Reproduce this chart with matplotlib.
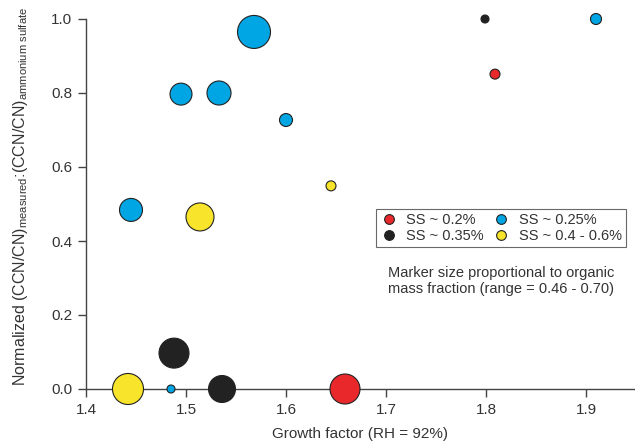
import matplotlib

matplotlib.use("Agg")
import matplotlib.pyplot as plt
from matplotlib.lines import Line2D

plt.rcParams["font.family"] = ["Liberation Sans", "DejaVu Sans"]
plt.rcParams["mathtext.fontset"] = "custom"
plt.rcParams["mathtext.rm"] = "Liberation Sans"
plt.rcParams["mathtext.it"] = "Liberation Sans:italic"

# growth factor, normalized CCN/CN, organic mass fraction, per supersaturation group
GF_02 = [1.659, 1.809]
CCN_02 = [0.0, 0.851]
ORG_02 = [0.671, 0.479]

GF_025 = [1.568, 1.495, 1.533, 1.600, 1.445, 1.485, 1.910]
CCN_025 = [0.965, 0.797, 0.800, 0.727, 0.484, 0.0, 1.0]
ORG_025 = [0.70, 0.594, 0.614, 0.508, 0.604, 0.46, 0.489]

GF_035 = [1.488, 1.536, 1.799]
CCN_035 = [0.097, 0.0, 1.0]
ORG_035 = [0.671, 0.642, 0.46]

GF_04 = [1.514, 1.442, 1.645]
CCN_04 = [0.465, 0.0, 0.549]
ORG_04 = [0.652, 0.681, 0.479]

LABELS = ["SS ~ 0.2%", "SS ~ 0.25%", "SS ~ 0.35%", "SS ~ 0.4 - 0.6%"]
COLORS = ["#e8282b", "#00a5e3", "#222222", "#f8e52b"]
TEXT = "#333333"


def size(org):
    # diameter in px grows linearly with organic fraction, converted to pt^2
    d = 8 + (org - 0.46) / 0.24 * 25
    return (d * 0.72) ** 2


fig = plt.figure(figsize=(6.35, 4.45), dpi=100)
ax = fig.add_axes([86 / 635, 1 - 389 / 445, 549 / 635, 370 / 445])

groups = [
    (GF_02, CCN_02, ORG_02),
    (GF_025, CCN_025, ORG_025),
    (GF_035, CCN_035, ORG_035),
    (GF_04, CCN_04, ORG_04),
]
for (gx, gy, org), c in zip(groups, COLORS):
    ax.scatter(gx, gy, s=[size(o) for o in org], color=c,
               edgecolor="#222222", linewidth=0.8, zorder=3, clip_on=False)

ax.set_xlim(1.4, 1.949)
ax.set_ylim(0, 1.0)
ax.set_xticks([1.4, 1.5, 1.6, 1.7, 1.8, 1.9])
ax.set_yticks([0.0, 0.2, 0.4, 0.6, 0.8, 1.0])
ax.xaxis.set_major_formatter(matplotlib.ticker.FormatStrFormatter("%.1f"))
ax.yaxis.set_major_formatter(matplotlib.ticker.FormatStrFormatter("%.1f"))
for s in ["top", "right"]:
    ax.spines[s].set_visible(False)
for s in ["left", "bottom"]:
    ax.spines[s].set_color("#444444")
    ax.spines[s].set_linewidth(1.0)
ax.tick_params(direction="out", length=6, width=1.0, color="#444444",
               labelsize=11, labelcolor=TEXT, pad=4)

ax.set_xlabel("Growth factor (RH = 92%)", fontsize=11, color=TEXT, labelpad=7)
ax.set_ylabel(r"Normalized (CCN/CN)$_{\mathrm{measured}}$:(CCN/CN)$_{\mathrm{ammonium\ sulfate}}$",
              fontsize=11.5, color=TEXT)
ax.yaxis.set_label_coords(-0.102, 0.52)

handles = [
    Line2D([], [], marker="o", linestyle="none", markersize=7,
           markerfacecolor=c, markeredgecolor="#222222", markeredgewidth=0.8)
    for c in COLORS
]
order = [0, 2, 1, 3]
leg = ax.legend([handles[i] for i in order], [LABELS[i] for i in order],
                ncol=2, loc="center", bbox_to_anchor=(0.756, 0.435),
                fontsize=10.5, frameon=True, fancybox=False, handlelength=1.2,
                handletextpad=0.6, columnspacing=0.6, labelspacing=0.1,
                borderpad=0.3, labelcolor=TEXT)
leg.get_frame().set_edgecolor("#444444")
leg.get_frame().set_linewidth(0.8)

ax.text(0.756, 0.292,
        "Marker size proportional to organic\nmass fraction (range = 0.46 - 0.70)",
        transform=ax.transAxes, ha="center", va="center", fontsize=10.5,
        color=TEXT, linespacing=1.1)

fig.savefig("out.png", dpi=100)
